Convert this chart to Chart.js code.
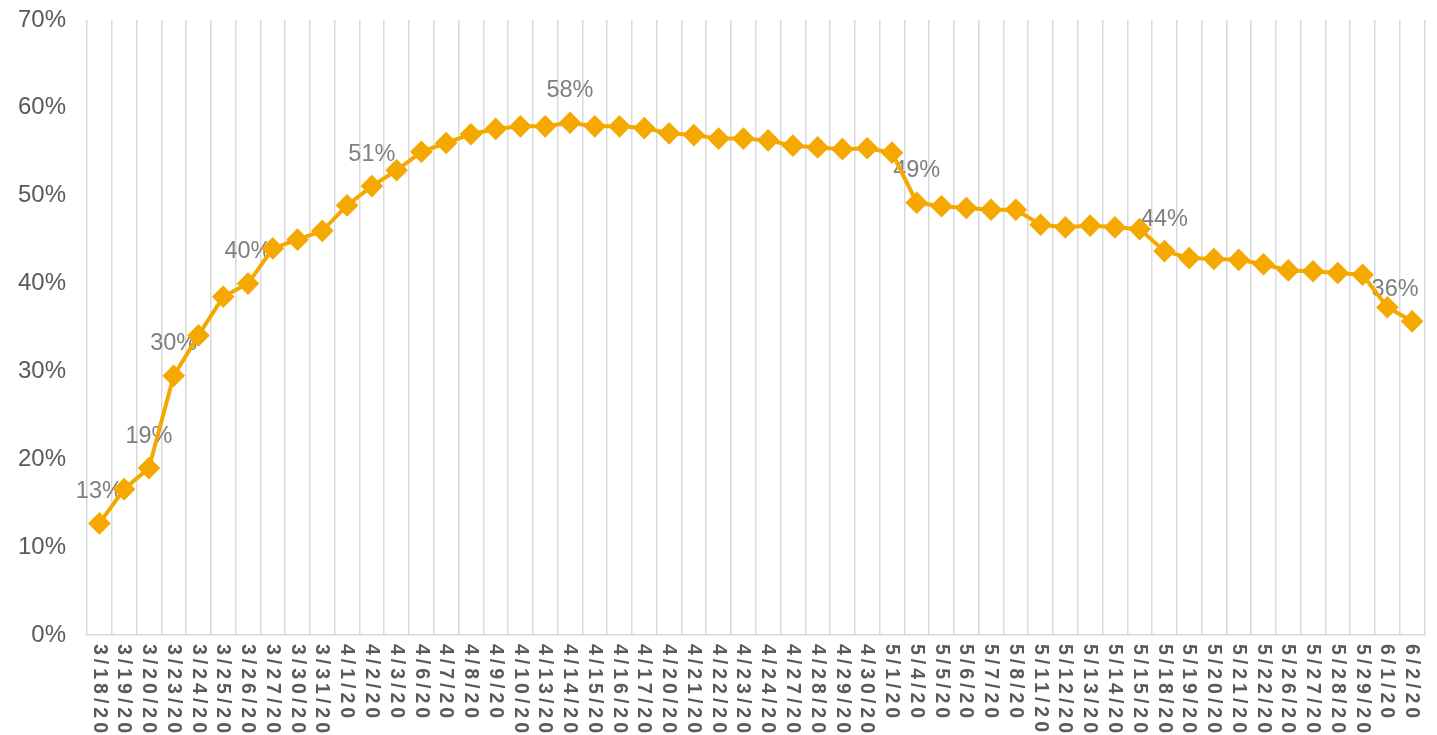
<!DOCTYPE html>
<html>
<head>
<meta charset="utf-8">
<script src="https://cdn.jsdelivr.net/npm/chart.js@4.4.1/dist/chart.umd.min.js"></script>
<style>
    html, body { margin: 0; padding: 0; background: #ffffff; overflow: hidden; }
    #shareChart { display: block; }
</style>
</head>
<body>
<canvas id="shareChart" width="1437" height="735"></canvas>
<script>
const dates = [
    "3/18/20", "3/19/20", "3/20/20", "3/23/20", "3/24/20", "3/25/20", "3/26/20", "3/27/20",
    "3/30/20", "3/31/20", "4/1/20", "4/2/20", "4/3/20", "4/6/20", "4/7/20", "4/8/20",
    "4/9/20", "4/10/20", "4/13/20", "4/14/20", "4/15/20", "4/16/20", "4/17/20", "4/20/20",
    "4/21/20", "4/22/20", "4/23/20", "4/24/20", "4/27/20", "4/28/20", "4/29/20", "4/30/20",
    "5/1/20", "5/4/20", "5/5/20", "5/6/20", "5/7/20", "5/8/20", "5/11/20", "5/12/20",
    "5/13/20", "5/14/20", "5/15/20", "5/18/20", "5/19/20", "5/20/20", "5/21/20", "5/22/20",
    "5/26/20", "5/27/20", "5/28/20", "5/29/20", "6/1/20", "6/2/20"
];
const shares = [
    12.7, 16.6, 19.0, 29.5, 34.1, 38.5, 40.0, 44.0,
    45.0, 46.0, 48.9, 51.1, 52.9, 55.0, 56.0, 57.0,
    57.6, 57.9, 57.9, 58.3, 57.9, 57.9, 57.7, 57.1,
    56.9, 56.5, 56.5, 56.3, 55.7, 55.5, 55.3, 55.4,
    54.9, 49.2, 48.8, 48.6, 48.4, 48.4, 46.7, 46.4,
    46.6, 46.4, 46.2, 43.7, 42.9, 42.8, 42.7, 42.2,
    41.5, 41.4, 41.2, 41.0, 37.3, 35.7
];
// points that carry a value label
const labelledPoints = [0, 2, 3, 6, 11, 19, 33, 43, 53];
const yTicks = [0, 10, 20, 30, 40, 50, 60, 70];

const FONT = "Arial, 'Liberation Sans', sans-serif";
const ORANGE = "#F5A800";

// value labels, drawn under the line like in Excel
const pointLabels = {
    id: "pointLabels",
    beforeDatasetsDraw(chart) {
        const ctx = chart.ctx;
        const meta = chart.getDatasetMeta(0);
        ctx.save();
        ctx.font = "23.5px " + FONT;
        ctx.fillStyle = "#7f7f7f";
        ctx.textAlign = "center";
        ctx.textBaseline = "middle";
        labelledPoints.forEach(i => {
            const pt = meta.data[i];
            const dx = i === dates.length - 1 ? -17 : 0;
            ctx.fillText(Math.round(shares[i]) + "%", pt.x + dx, pt.y - 32);
        });
        ctx.restore();
    }
};

// x labels rotated clockwise, read top to bottom
const verticalDates = {
    id: "verticalDates",
    afterDraw(chart) {
        const ctx = chart.ctx;
        const xs = chart.scales.x;
        ctx.save();
        ctx.font = "bold 19.5px " + FONT;
        ctx.fillStyle = "#595959";
        ctx.letterSpacing = "4px";
        ctx.textAlign = "left";
        ctx.textBaseline = "middle";
        dates.forEach((d, i) => {
            ctx.save();
            ctx.translate(xs.getPixelForValue(i) - 0.5, chart.chartArea.bottom + 9);
            ctx.rotate(Math.PI / 2);
            ctx.fillText(d, 0, 0);
            ctx.restore();
        });
        ctx.restore();
    }
};

const ctx = document.getElementById("shareChart").getContext("2d");
new Chart(ctx, {
    type: "line",
    data: {
        labels: dates,
        datasets: [{
            data: shares,
            borderColor: ORANGE,
            backgroundColor: ORANGE,
            borderWidth: 4,
            pointStyle: "rectRot",
            pointRadius: 8.5,
            pointHoverRadius: 8.5,
            pointBackgroundColor: ORANGE,
            pointBorderColor: ORANGE,
            tension: 0
        }]
    },
    plugins: [pointLabels, verticalDates],
    options: {
        responsive: false,
        animation: false,
        devicePixelRatio: 1,
        layout: { padding: { top: 20, right: 12, bottom: 100, left: 0 } },
        plugins: {
            legend: { display: false },
            tooltip: { enabled: false },
            title: { display: false }
        },
        scales: {
            x: {
                offset: true,
                grid: {
                    display: true,
                    offset: true,
                    color: "#d9d9d9",
                    lineWidth: 1.5,
                    drawTicks: false
                },
                border: { display: true, color: "#d9d9d9", width: 1.5 },
                ticks: { display: false }
            },
            y: {
                min: 0,
                max: 70,
                afterBuildTicks: scale => {
                    scale.ticks = yTicks.map(v => ({ value: v }));
                },
                afterFit: scale => { scale.width = 87; },
                // invisible tick marks keep the labels away from the plot
                grid: {
                    display: true,
                    drawOnChartArea: false,
                    drawTicks: true,
                    tickLength: 21,
                    tickColor: "rgba(0,0,0,0)",
                    color: "rgba(0,0,0,0)"
                },
                border: { display: false },
                ticks: {
                    padding: 0,
                    color: "#595959",
                    font: { family: FONT, size: 24 },
                    callback: v => v + "%"
                }
            }
        }
    }
});
</script>
</body>
</html>
